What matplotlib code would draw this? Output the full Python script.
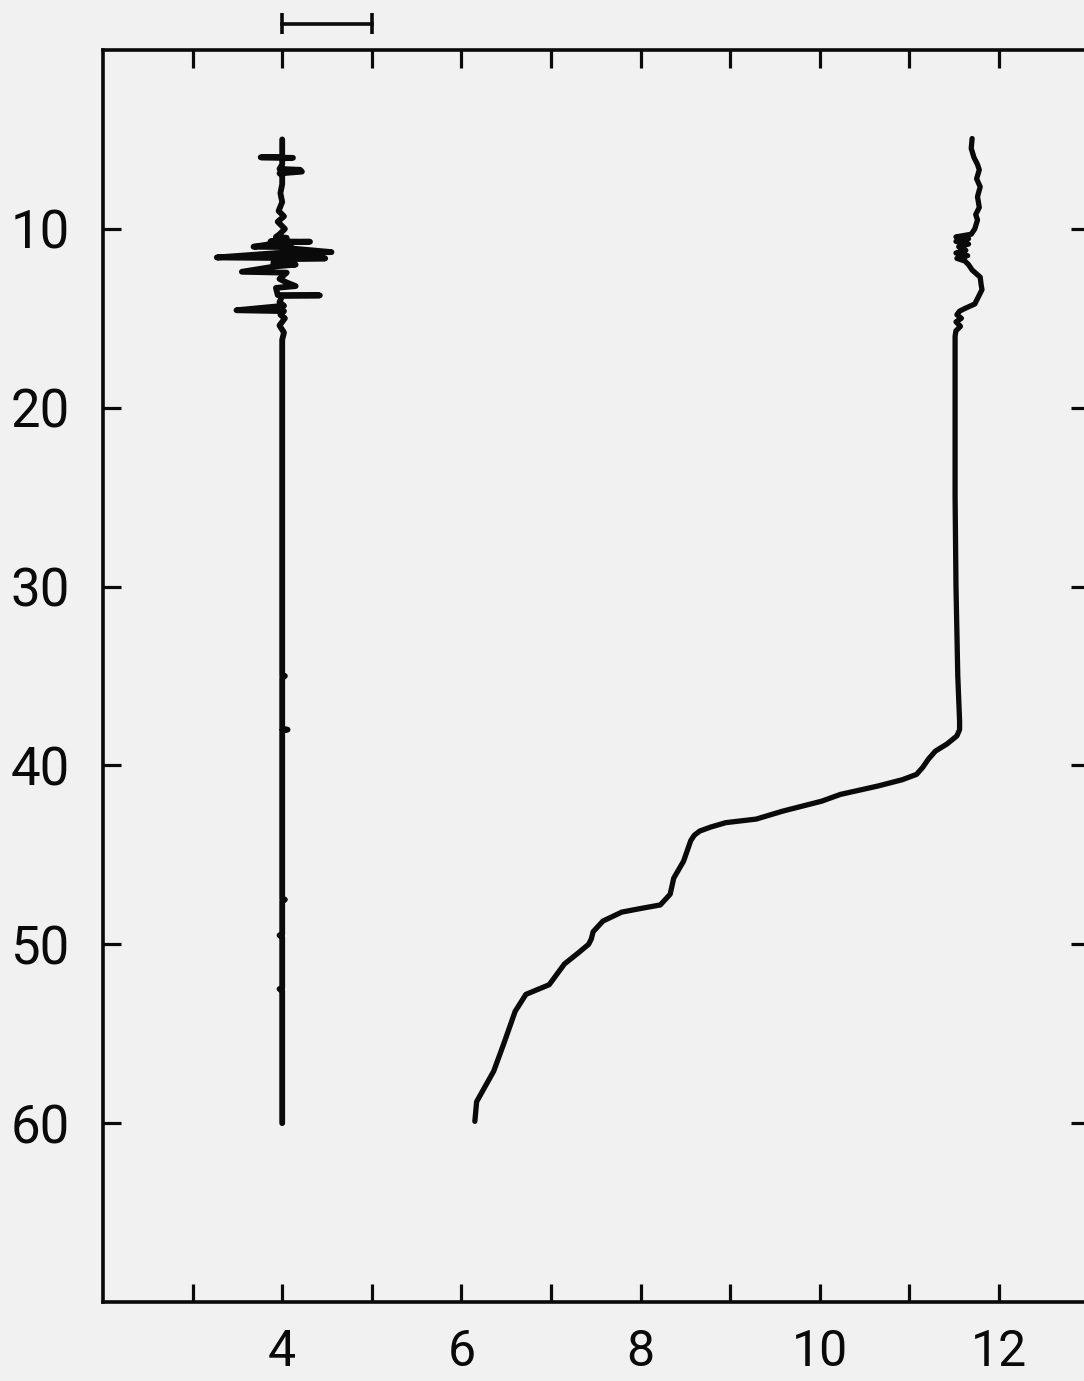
import matplotlib
matplotlib.use("Agg")
import matplotlib.pyplot as plt
import matplotlib.transforms as mtransforms
from matplotlib.ticker import FixedLocator, NullFormatter

# ---------------- data ----------------
# Left trace: value (x) vs depth (y)
left_depth = [5.0, 5.8, 6.0, 6.0, 6.03, 6.06, 6.4, 6.65, 6.7, 6.8, 6.9, 7.0, 7.5, 8.0,
              8.5, 9.0, 9.3, 9.6, 10.0, 10.3, 10.45, 10.5, 10.7, 10.72, 10.75,
              11.0, 11.02, 11.05, 11.3, 11.35, 11.6, 11.65, 11.7, 11.9, 12.0, 12.1,
              12.4, 12.45, 12.8, 13.0, 13.2, 13.3, 13.7, 13.72, 13.75, 14.1, 14.3,
              14.55, 14.6, 14.8, 15.0, 15.4, 15.8, 16.2, 20.0, 25.0, 30.0, 34.95,
              35.0, 35.1, 37.95, 38.0, 38.05, 41.0, 47.45, 47.5, 47.6, 49.45, 49.5,
              49.6, 52.45, 52.5, 52.6, 56.0, 59.0, 60.0]
left_value = [4.00, 4.00, 4.00, 3.76, 4.12, 4.00, 4.00, 3.97, 4.20, 4.22, 3.97, 4.00, 4.00, 3.98,
              4.00, 3.96, 4.02, 3.95, 4.03, 3.97, 3.93, 4.05, 3.87, 4.31, 4.00,
              3.68, 4.10, 4.00, 4.55, 3.95, 3.27, 4.48, 4.00, 3.90, 4.15, 3.92,
              3.55, 4.05, 3.97, 4.05, 4.15, 3.93, 3.95, 4.42, 4.00, 3.97, 4.02,
              3.49, 4.02, 3.98, 4.03, 3.97, 4.02, 4.00, 4.00, 4.00, 4.00, 4.00,
              4.03, 4.00, 4.00, 4.06, 4.00, 4.00, 4.00, 4.03, 4.00, 4.00, 3.97,
              4.00, 4.00, 3.97, 4.00, 4.00, 4.00, 4.00]

# Right trace: value (x) vs depth (y)
right_depth = [4.95, 5.5, 6.0, 6.4, 6.7, 7.2, 7.65, 8.2, 8.8, 9.2, 9.5, 10.0, 10.3,
               10.45, 10.55, 10.7, 10.85, 11.0, 11.2, 11.35, 11.5, 11.65, 11.8, 12.0,
               12.3, 12.7, 13.1, 13.4, 13.8, 14.2, 14.45, 14.6, 14.8, 15.0, 15.2,
               15.45, 15.7, 16.0, 16.5, 20.0, 25.0, 30.0, 35.0, 37.5, 38.0, 38.35, 38.8,
               39.2, 39.66, 40.1, 40.5, 40.8, 41.15, 41.62, 42.0, 42.55, 43.0, 43.2,
               43.45, 43.67, 43.9, 44.2, 45.35, 46.3, 47.2, 47.8, 48.0, 48.2, 48.7, 49.3,
               49.7, 50.0, 50.5, 51.1, 52.26, 52.8, 53.75, 55.6, 57.1, 58.8, 59.9]
right_value = [11.70, 11.69, 11.72, 11.76, 11.78, 11.75, 11.79, 11.76, 11.78, 11.74, 11.76, 11.73, 11.69,
               11.52, 11.66, 11.52, 11.66, 11.55, 11.63, 11.52, 11.65, 11.53, 11.62, 11.66,
               11.70, 11.79, 11.80, 11.81, 11.77, 11.73, 11.62, 11.56, 11.53, 11.58, 11.52,
               11.57, 11.52, 11.51, 11.51, 11.51, 11.51, 11.52, 11.54, 11.56, 11.56, 11.53, 11.42,
               11.29, 11.21, 11.15, 11.08, 10.92, 10.65, 10.23, 10.02, 9.59, 9.29, 8.95,
               8.78, 8.66, 8.60, 8.56, 8.48, 8.37, 8.33, 8.22, 8.00, 7.79, 7.58, 7.47,
               7.45, 7.42, 7.30, 7.15, 6.98, 6.72, 6.60, 6.47, 6.36, 6.17, 6.15]

x_labeled_ticks = [4, 6, 8, 10, 12]
x_minor_ticks = [3, 5, 7, 9, 11]
y_ticks = [10, 20, 30, 40, 50, 60]
scale_bar = [4, 5]

# ---------------- figure ----------------
W, H = 1084, 1381
fig = plt.figure(figsize=(W / 100, H / 100), dpi=100)
paper = "#f1f1f1"
ink = "#0a0a0a"
fig.patch.set_facecolor(paper)

left_px, right_px, top_px, bottom_px = 103, 1088.6, 50, 1302
ax = fig.add_axes([left_px / W, (H - bottom_px) / H,
                   (right_px - left_px) / W, (bottom_px - top_px) / H])
ax.set_facecolor(paper)
ax.set_xlim(2, 13)
ax.set_ylim(70, 0)

ax.plot(left_value, left_depth, color=ink, lw=4.2,
        solid_capstyle="round", solid_joinstyle="round")
ax.plot(right_value, right_depth, color=ink, lw=3.8,
        solid_capstyle="round", solid_joinstyle="round")

for s in ax.spines.values():
    s.set_linewidth(2.6)
    s.set_color(ink)

ax.xaxis.set_major_locator(FixedLocator(x_labeled_ticks))
ax.xaxis.set_minor_locator(FixedLocator(x_minor_ticks))
ax.xaxis.set_minor_formatter(NullFormatter())
ax.yaxis.set_major_locator(FixedLocator(y_ticks))
ax.yaxis.set_minor_locator(FixedLocator([]))

ax.tick_params(axis="x", which="both", direction="in", length=13, width=2.3,
               color=ink, top=True, bottom=True, labeltop=False, labelbottom=True,
               pad=19, labelsize=36, labelcolor=ink)
ax.tick_params(axis="y", which="both", direction="in", length=13, width=2.3,
               color=ink, left=True, right=True, labelleft=True, labelright=False,
               pad=24, labelsize=38, labelcolor=ink)
for lab in ax.get_xticklabels() + ax.get_yticklabels():
    lab.set_fontfamily("Roboto")

# scale bar above the frame (x in data units, y in axes fraction)
trans = mtransforms.blended_transform_factory(ax.transData, ax.transAxes)
ax.plot(scale_bar, [1.0208, 1.0208], color=ink, lw=2.6, transform=trans, clip_on=False)
for xv in scale_bar:
    ax.plot([xv, xv], [1.0128, 1.0296], color=ink, lw=2.6, transform=trans,
            clip_on=False, solid_capstyle="butt")

fig.savefig("out.png", dpi=100, facecolor=paper)
